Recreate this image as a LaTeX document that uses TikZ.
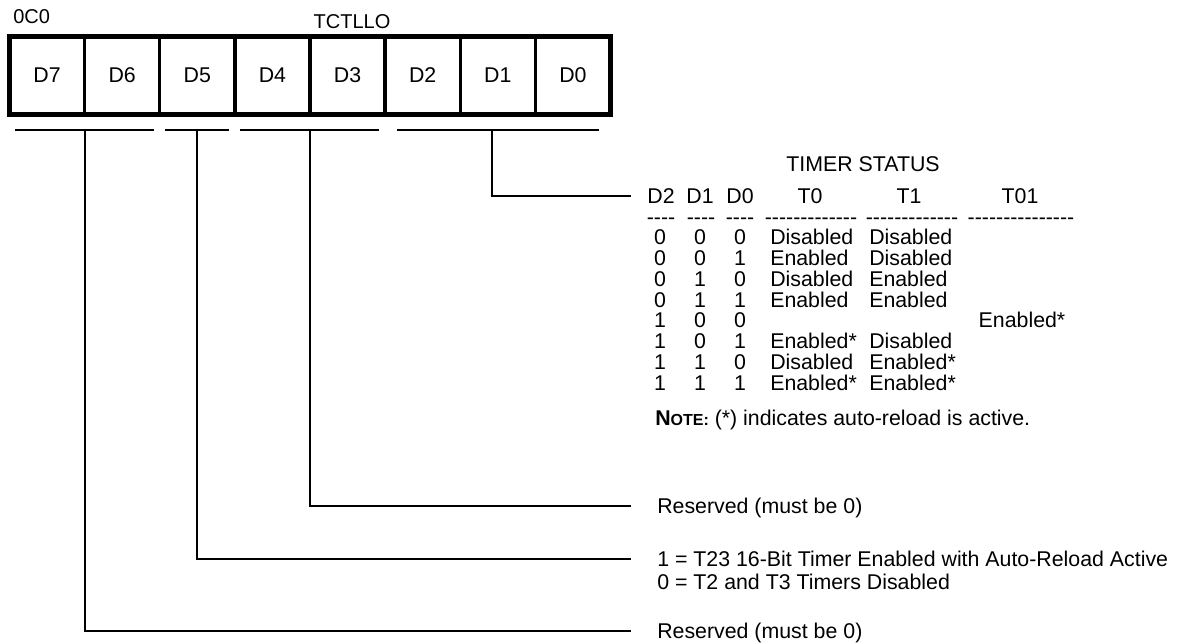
\documentclass[tikz,border=0pt]{standalone}
\usepackage{fontspec}
\setmainfont{Liberation Sans}
\newcommand\hyph[1]{\foreach\k in {1,...,#1}{-\kern0pt}}
\tikzset{
  cell/.style={draw, line width=2.6pt, outer sep=0pt, inner sep=0pt,
    minimum width=56.34pt, minimum height=58.5pt, font=\fontsize{16}{16}\selectfont},
  txt/.style={inner sep=0pt, anchor=base, font=\fontsize{16}{16}\selectfont},
  note/.style={anchor=west, inner xsep=19.5pt, inner ysep=0pt,
    text height=11.4pt, text depth=0pt, font=\fontsize{16}{16}\selectfont},
  wire/.style={line width=1pt},
}
\begin{document}
\begin{tikzpicture}[x=0.75pt, y=-0.75pt]
    \useasboundingbox (0,0) rectangle (1198,643);
    % register, D7 on the left
    \foreach \i in {0,...,7}{
        \node[cell] (d\i) at ({47.06+75.125*(7-\i)},75.5) {D\i};
    }
    \draw[line width=3.75pt] (d7.north west) rectangle (d0.south east);
    \node[txt, anchor=base west, font=\fontsize{15}{15}\selectfont] (addr) at (13,23.2) {0C0};
    \node[txt, font=\fontsize{15}{15}\selectfont] (regname) at (352,28.2) {TCTLLO};
    % field underlines
    \draw[wire] (15,130) -- (154,130);
    \draw[wire] (165,130) -- (229,130);
    \draw[wire] (240,130) -- (379,130);
    \draw[wire] (397,130) -- (599,130);
    \coordinate (u76) at (85,130);
    \coordinate (u5) at (197,130);
    \coordinate (u43) at (310,130);
    \coordinate (u20) at (492,130);
    % timer status table
    \node[txt] (title) at (863,171.6) {TIMER STATUS};
    \foreach \name/\x in {D2/661, D1/700, D0/740, T0/810, T1/909, T01/1020}
        \node[txt] (h\name) at (\x,203.6) {\name};
    \foreach \n/\x [count=\c] in {4/661, 4/701, 4/740, 13/811, 13/912, 15/1021}
        \node[txt] (rule\c) at (\x,224) {\hyph{\n}};
    \foreach \sa/\sb/\sc/\ea/\eb/\ec [count=\r from 0] in {
        0/0/0/Disabled/Disabled/{}, 0/0/1/Enabled/Disabled/{},
        0/1/0/Disabled/Enabled/{}, 0/1/1/Enabled/Enabled/{},
        1/0/0/{}/{}/Enabled*, 1/0/1/Enabled*/Disabled/{},
        1/1/0/Disabled/Enabled*/{}, 1/1/1/Enabled*/Enabled*/{}}{
        \pgfmathsetmacro\ry{244.6+20.8*\r}
        \node[txt] (r\r-d2) at (660,\ry) {\sa};
        \node[txt] (r\r-d1) at (700,\ry) {\sb};
        \node[txt] (r\r-d0) at (740,\ry) {\sc};
        \node[txt, anchor=base west] (r\r-t0) at (770,\ry) {\ea};
        \node[txt, anchor=base west] (r\r-t1) at (869,\ry) {\eb};
        \node[txt] (r\r-t01) at (1022,\ry) {\ec};
    }
    \node[txt, anchor=base west] (remark) at (655,425.6)
        {\textbf{N\fontsize{12}{12}\selectfont OTE:} (*) indicates auto-reload is active.};
    % field descriptions
    \node[note] (rsv43) at (631,506) {Reserved (must be 0)};
    \node[note] (t23on) at (631,559) {1 = T23 16-Bit Timer Enabled with Auto-Reload Active};
    \node[note] (t23off) at (631,582) {0 = T2 and T3 Timers Disabled};
    \node[note] (rsv76) at (631,631) {Reserved (must be 0)};
    \draw[wire] (u20) |- ([xshift=-12pt]hD2.west);
    \draw[wire] (u43) |- (rsv43.west);
    \draw[wire] (u5) |- (t23on.west);
    \draw[wire] (u76) |- (rsv76.west);
\end{tikzpicture}
\end{document}
